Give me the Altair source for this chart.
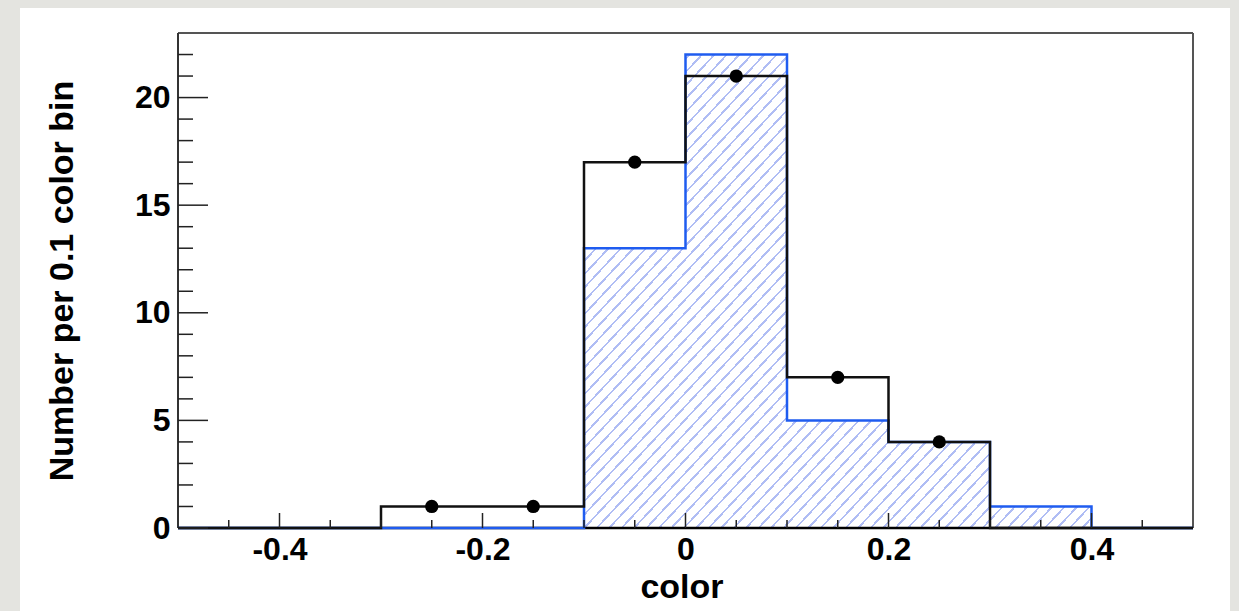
import math
import altair as alt
import pandas as pd

# ---------------- data ----------------
bin_edges = [-0.5, -0.4, -0.3, -0.2, -0.1, 0.0, 0.1, 0.2, 0.3, 0.4, 0.5]
bin_centers = [-0.45, -0.35, -0.25, -0.15, -0.05, 0.05, 0.15, 0.25, 0.35, 0.45]
data_counts = [0, 0, 1, 1, 17, 21, 7, 4, 0, 0]      # black histogram + markers
model_counts = [0, 0, 0, 0, 13, 22, 5, 4, 1, 0]     # blue hatched histogram

x_label_values = [-0.4, -0.2, 0.0, 0.2, 0.4]
x_minor_ticks = [-0.45, -0.35, -0.3, -0.25, -0.15, -0.1, -0.05,
                 0.05, 0.1, 0.15, 0.25, 0.3, 0.35, 0.45]
y_label_values = [0, 5, 10, 15, 20]
y_minor_ticks = [1, 2, 3, 4, 6, 7, 8, 9, 11, 12, 13, 14, 16, 17, 18, 19, 21, 22]

x_title = "color"
y_title = "Number per 0.1 color bin"

# ---------------- layout ----------------
PW, PH = 1015, 495
X_DOMAIN = [-0.5, 0.5]
Y_DOMAIN = [0, 23]
FONT = "Liberation Sans"
LABEL_SIZE = 32
TITLE_SIZE = 34

hist = pd.DataFrame({
    "x": bin_edges,
    "data": data_counts + data_counts[-1:],
    "model": model_counts + model_counts[-1:],
})
points = pd.DataFrame({"x": bin_centers, "y": data_counts})
xmaj = pd.DataFrame({"t": x_label_values})
xmin = pd.DataFrame({"t": x_minor_ticks})
ymaj = pd.DataFrame({"t": y_label_values})
ymin = pd.DataFrame({"t": y_minor_ticks})
one = pd.DataFrame({"k": [0]})

xs = alt.Scale(domain=X_DOMAIN, nice=False, zero=False)
ys = alt.Scale(domain=Y_DOMAIN, nice=False, zero=False)

x_axis = alt.Axis(
    values=x_label_values,
    labelExpr="datum.value == 0 ? '0' : (datum.value < 0 ? '-' : '') + format(abs(datum.value), '.1f')",
    ticks=False, domain=False, grid=False,
    labelFont=FONT, labelFontWeight="bold", labelFontSize=LABEL_SIZE, labelColor="black",
    labelPadding=6, labelFlush=False, labelOverlap=False,
    title=x_title, titleFont=FONT, titleFontWeight="bold", titleFontSize=TITLE_SIZE,
    titleColor="black", titleX=PW / 2 - 4, titleY=69, titleBaseline="alphabetic",
    titleAlign="center", zindex=1,
)
y_axis = alt.Axis(
    values=y_label_values, format="d",
    ticks=False, domain=False, grid=False,
    labelFont=FONT, labelFontWeight="bold", labelFontSize=LABEL_SIZE, labelColor="black",
    labelPadding=8, labelFlush=False, labelOverlap=False,
    title=y_title, titleFont=FONT, titleFontWeight="bold", titleFontSize=TITLE_SIZE,
    titleColor="black", titleAngle=270, titleX=-116, titleY=PH / 2,
    titleBaseline="middle", titleAlign="center", zindex=1,
)

X = lambda f: alt.X(f, scale=xs, axis=x_axis)
Y = lambda f: alt.Y(f, scale=ys, axis=y_axis)

# ---------------- hatch pattern as a striped linear gradient ----------------
W = PW
H = max(model_counts) / Y_DOMAIN[1] * PH
theta = math.radians(47)
s, c = math.sin(theta), math.cos(theta)
Dmax = W * s + H * c
a = Dmax / (W * W * s * s + H * H * c * c)
gx2, gy2 = a * W * s, a * H * c
perp_spacing = 12.5 * s
n = int(Dmax / perp_spacing) + 1
frac = 1.8 / perp_spacing
stripe = "#b0bdf4"
stops = []
for i in range(n):
    o0 = i / n
    o1 = (i + frac) / n
    o2 = (i + 1) / n
    stops += [
        alt.GradientStop(color=stripe, offset=o0),
        alt.GradientStop(color=stripe, offset=o1),
        alt.GradientStop(color="white", offset=o1),
        alt.GradientStop(color="white", offset=min(o2, 1.0)),
    ]
grad = alt.LinearGradient(gradient="linear", stops=stops, x1=0, y1=0, x2=gx2, y2=gy2)

# ---------------- layers ----------------
panel = alt.Chart(one).mark_rect(color="white").encode(
    x=alt.value(-158), x2=alt.value(1052), y=alt.value(-25), y2=alt.value(600)
)
hatch = alt.Chart(hist).mark_area(interpolate="step-after", fill=grad).encode(
    x=X("x:Q"), y=Y("model:Q")
)
frame_top = alt.Chart(one).mark_rule(color="#555555", strokeWidth=2).encode(
    x=alt.value(0), x2=alt.value(PW), y=alt.value(0)
)
frame_right = alt.Chart(one).mark_rule(color="#555555", strokeWidth=2).encode(
    x=alt.value(PW), y=alt.value(0), y2=alt.value(PH)
)
frame_left = alt.Chart(one).mark_rule(color="#333333", strokeWidth=2).encode(
    x=alt.value(0), y=alt.value(0), y2=alt.value(PH)
)
frame_bottom = alt.Chart(one).mark_rule(color="black", strokeWidth=2.5).encode(
    x=alt.value(0), x2=alt.value(PW), y=alt.value(PH)
)
blue_line = alt.Chart(hist).mark_line(interpolate="step-after", color="#1f5cf0", strokeWidth=2.5).encode(
    x=X("x:Q"), y=Y("model:Q")
)
black_line = alt.Chart(hist).mark_line(interpolate="step-after", color="#111111", strokeWidth=2.5).encode(
    x=X("x:Q"), y=Y("data:Q")
)
pts = alt.Chart(points).transform_filter("datum.y > 0").mark_circle(
    size=175, color="black", opacity=1
).encode(x=X("x:Q"), y=Y("y:Q"))

xt_major = alt.Chart(xmaj).mark_rule(color="#222222", strokeWidth=1.5).encode(
    x=X("t:Q"), y=alt.value(PH), y2=alt.value(PH - 15)
)
xt_minor = alt.Chart(xmin).mark_rule(color="#222222", strokeWidth=1.5).encode(
    x=X("t:Q"), y=alt.value(PH), y2=alt.value(PH - 8)
)
yt_major = alt.Chart(ymaj).mark_rule(color="#222222", strokeWidth=1.5).encode(
    y=Y("t:Q"), x=alt.value(0), x2=alt.value(30)
)
yt_minor = alt.Chart(ymin).mark_rule(color="#222222", strokeWidth=1.5).encode(
    y=Y("t:Q"), x=alt.value(0), x2=alt.value(15)
)

chart = alt.layer(
    panel, hatch, frame_top, frame_right, frame_left, frame_bottom,
    blue_line, black_line, pts, xt_major, xt_minor, yt_major, yt_minor,
).properties(
    width=PW, height=PH,
    padding={"left": 178, "top": 33, "right": 46, "bottom": 83},
    autosize=alt.AutoSizeParams(type="none"),
    background="#e4e4e0",
).configure_view(stroke=None)

chart.save("out.html", embed_options={"renderer": "svg", "actions": False})
